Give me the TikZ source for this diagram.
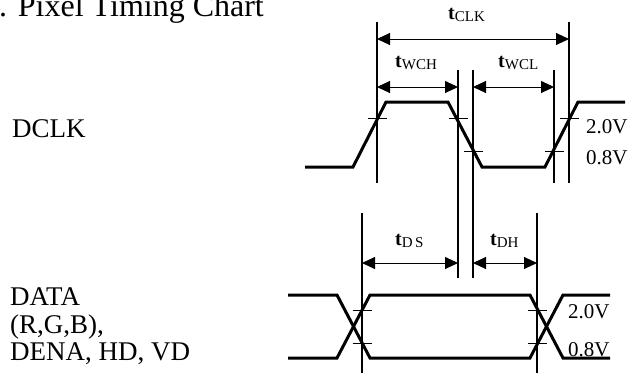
\documentclass[tikz,border=0pt]{standalone}
\usepackage{fontspec}
\setmainfont{Liberation Serif}
\usetikzlibrary{arrows.meta}
\newcommand\tsym[1]{{\fontsize{20}{20}\selectfont\textbf{t}}{\fontsize{15}{15}\selectfont\raisebox{-2.5pt}{#1}}}
\begin{document}
\begin{tikzpicture}[x=1pt,y=-1pt,
  wave/.style={line width=3pt, line join=miter},
  guide/.style={line width=1.1pt},
  tickmark/.style={line width=1pt},
  dimline/.style={line width=1pt, {Triangle[length=13pt,width=12pt]}-{Triangle[length=13pt,width=12pt]}},
  lbl/.style={font=\fontsize{27}{27}\selectfont, anchor=base west, inner sep=0pt},
  volt/.style={font=\fontsize{21}{21}\selectfont, anchor=base west, inner sep=0pt},
  tl/.style={anchor=base west, inner sep=0pt},
  ]
\useasboundingbox (0,0) rectangle (630,378);
\clip (0,0) rectangle (630,378);

% title
\node[anchor=base west, inner sep=0pt, font=\fontsize{32}{32}\selectfont] (title) at (-1,16) {. Pixel Timing Chart};

% left labels
\node[lbl] (dclk) at (12,137) {DCLK};
\node[lbl] (data1) at (10,305) {DATA};
\node[lbl] (data2) at (10,333) {(R,G,B),};
\node[lbl] (data3) at (10,360) {DENA, HD, VD};

% guide coordinates
\coordinate (a1) at (377,22);  \coordinate (a2) at (377,183);
\coordinate (b1) at (569,22);  \coordinate (b2) at (569,183);
\coordinate (c1) at (458,70);  \coordinate (c2) at (458,278);
\coordinate (d1) at (473,70);  \coordinate (d2) at (473,278);
\coordinate (e1) at (554,70);  \coordinate (e2) at (554,183);
\coordinate (f1) at (362,213); \coordinate (f2) at (362,373);
\coordinate (g1) at (537,213); \coordinate (g2) at (537,373);
\foreach \p in {a,b,c,d,e,f,g} \draw[guide] (\p1) -- (\p2);

% dimension arrows
\coordinate (clkL) at (377,39); \coordinate (clkR) at (569,39);
\coordinate (wchL) at (377,87); \coordinate (wchR) at (458,87);
\coordinate (wclL) at (473,87); \coordinate (wclR) at (554,87);
\coordinate (dsL) at (362,263); \coordinate (dsR) at (458,263);
\coordinate (dhL) at (473,263); \coordinate (dhR) at (537,263);
\draw[dimline] (clkL) -- (clkR);
\draw[dimline] (wchL) -- (wchR);
\draw[dimline] (wclL) -- (wclR);
\draw[dimline] (dsL) -- (dsR);
\draw[dimline] (dhL) -- (dhR);

% timing labels
\node[tl] (tclk) at (448,19) {\tsym{CLK}};
\node[tl] (twch) at (395,67) {\tsym{WCH}};
\node[tl] (twcl) at (498,67) {\tsym{WCL}};
\node[tl] (tds) at (395,245) {\tsym{D\,S}};
\node[tl] (tdh) at (490,245) {\tsym{DH}};

% DCLK waveform
\draw[wave] (305,167) -- (353,167) -- (386,102) -- (448,102) -- (482,167) -- (545,167) -- (578,102) -- (625,102);
\foreach \x/\y in {377/118, 458/118, 473/151, 554/151, 569/118}
  \draw[tickmark] (\x-9.5,\y) -- (\x+9.5,\y);
\node[volt] (v20a) at (586,133) {2.0V};
\node[volt] (v08a) at (586,164) {0.8V};

% DATA waveform
\draw[wave] (288,295) -- (337,295) -- (370,358) -- (530,358) -- (563,295) -- (610,295);
\draw[wave] (288,358) -- (337,358) -- (370,295) -- (530,295) -- (563,358) -- (610,358);
\foreach \x/\y in {362/310, 362/343, 537/310, 537/343}
  \draw[tickmark] (\x-9.5,\y) -- (\x+9.5,\y);
\node[volt] (v20b) at (568,318) {2.0V};
\node[volt] (v08b) at (568,356) {0.8V};
\end{tikzpicture}
\end{document}
